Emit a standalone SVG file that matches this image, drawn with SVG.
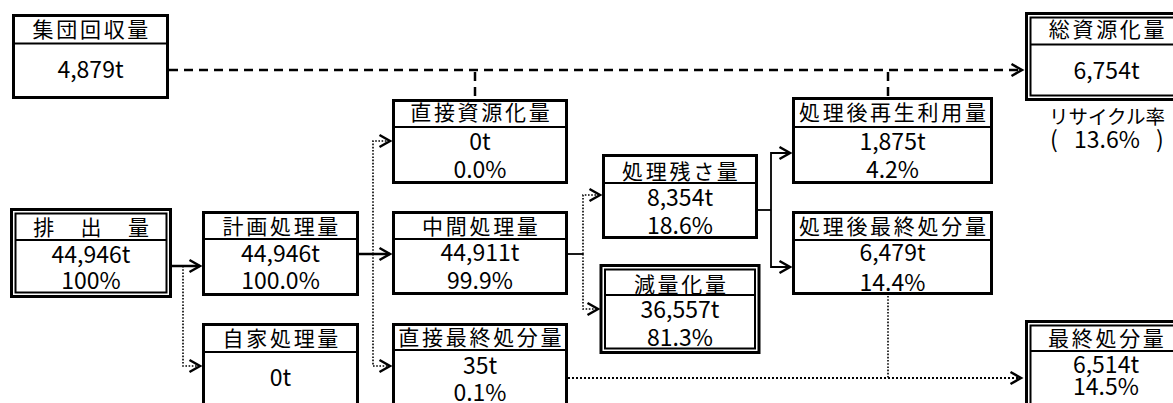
<svg xmlns="http://www.w3.org/2000/svg" width="1173" height="403" viewBox="0 0 1173 403">
<defs>
<style>
.bx{fill:#fff;stroke:#000;stroke-width:3}
.in{fill:none;stroke:#000;stroke-width:2}
.dv{stroke:#000;stroke-width:2}
.hd{font-family:"Noto Sans CJK JP","Noto Sans CJK SC",sans-serif;font-size:21px;letter-spacing:2.7px;text-anchor:middle;fill:#000}
.nm{font-family:"Noto Sans CJK JP","Noto Sans CJK SC",sans-serif;font-size:23px;text-anchor:middle;fill:#000}
.lb{font-family:"Noto Sans CJK JP","Noto Sans CJK SC",sans-serif;font-size:19.5px;text-anchor:middle;fill:#000}
.sl{fill:none;stroke:#000;stroke-width:2.5}
.tn{fill:none;stroke:#000;stroke-width:1.8}
.ds{fill:none;stroke:#000;stroke-width:2.5;stroke-dasharray:9 6}
.dt{fill:none;stroke:#000;stroke-width:1.6;stroke-dasharray:1.6 1.6}
.dt2{fill:none;stroke:#000;stroke-width:2;stroke-dasharray:2 2}
</style>
<marker id="ah" markerUnits="userSpaceOnUse" markerWidth="16" markerHeight="16" refX="12" refY="8" orient="auto" viewBox="0 0 16 16">
<path d="M1.5,2 L12,8 L1.5,14" fill="none" stroke="#000" stroke-width="2.5" stroke-dasharray="none"/>
</marker>
</defs>

<g id="connectors">
<path class="ds" d="M169,70 H1022" marker-end="url(#ah)"/>
<path class="ds" d="M475,72 V99"/>
<path class="ds" d="M888,72 V97"/>
<path class="sl" d="M172,266 H200" marker-end="url(#ah)"/>
<path class="dt" d="M183,266 V366 H200" marker-end="url(#ah)"/>
<path class="sl" d="M359,254 H390" marker-end="url(#ah)"/>
<path class="dt" d="M373,254 V141 H390" marker-end="url(#ah)"/>
<path class="dt" d="M373,254 V366 H390" marker-end="url(#ah)"/>
<path class="tn" d="M568,254 H583"/>
<path class="dt" d="M583,254 V195 H600" marker-end="url(#ah)"/>
<path class="dt" d="M583,254 V309 H598" marker-end="url(#ah)"/>
<path class="tn" d="M758,210 H771"/>
<path class="tn" d="M771,210 V153 H790" marker-end="url(#ah)"/>
<path class="tn" d="M771,210 V267 H790" marker-end="url(#ah)"/>
<path class="dt" d="M888,296 V378"/>
<path class="dt2" d="M568,378 H1021" marker-end="url(#ah)"/>
</g>

<g id="n-shudan">
<rect class="bx" x="13.5" y="15.5" width="154" height="82"/>
<line class="dv" x1="13.5" y1="43.5" x2="167.5" y2="43.5"/>
<text class="hd" x="91.8" y="37">集団回収量</text>
<text class="nm" x="90.5" y="78.4">4,879t</text>
</g>

<g id="n-soushigen">
<rect class="bx" x="1026.5" y="13.5" width="200" height="86"/>
<rect class="in" x="1030.5" y="17.5" width="200" height="78"/>
<line class="dv" x1="1030.5" y1="44.5" x2="1180" y2="44.5"/>
<text class="hd" x="1108" y="37">総資源化量</text>
<text class="nm" x="1106.5" y="79.4">6,754t</text>
<text class="lb" x="1107" y="124">リサイクル率</text>
<text class="nm" y="148.4"><tspan x="1054">(</tspan><tspan x="1107"> 13.6% </tspan><tspan x="1160">)</tspan></text>
</g>

<g id="n-haishutsu">
<rect class="bx" x="11.5" y="209.5" width="159" height="87"/>
<rect class="in" x="15.5" y="213.5" width="151" height="79"/>
<line class="dv" x1="15.5" y1="240" x2="166.5" y2="240"/>
<text class="hd" x="92.4" y="234.5">排　出　量</text>
<text class="nm" x="91" y="262.9">44,946t</text>
<text class="nm" x="91" y="289.4">100%</text>
</g>

<g id="n-keikaku">
<rect class="bx" x="203.5" y="212.5" width="154" height="82"/>
<line class="dv" x1="203.5" y1="239" x2="357.5" y2="239"/>
<text class="hd" x="281.8" y="234">計画処理量</text>
<text class="nm" x="280.5" y="262.4">44,946t</text>
<text class="nm" x="280.5" y="289.4">100.0%</text>
</g>

<g id="n-jika">
<rect class="bx" x="203.5" y="324.5" width="154" height="100"/>
<line class="dv" x1="203.5" y1="352" x2="357.5" y2="352"/>
<text class="hd" x="281.8" y="346">自家処理量</text>
<text class="nm" x="280.5" y="386.4">0t</text>
</g>

<g id="n-chokushigen">
<rect class="bx" x="393.5" y="100.5" width="173" height="82"/>
<line class="dv" x1="393.5" y1="127" x2="566.5" y2="127"/>
<text class="hd" x="481.3" y="120">直接資源化量</text>
<text class="nm" x="480" y="150">0t</text>
<text class="nm" x="480" y="178.4">0.0%</text>
</g>

<g id="n-chukan">
<rect class="bx" x="393.5" y="212.5" width="173" height="81"/>
<line class="dv" x1="393.5" y1="239" x2="566.5" y2="239"/>
<text class="hd" x="481.3" y="234">中間処理量</text>
<text class="nm" x="480" y="261.4">44,911t</text>
<text class="nm" x="480" y="289.4">99.9%</text>
</g>

<g id="n-chokusaishu">
<rect class="bx" x="393.5" y="324.5" width="173" height="100"/>
<line class="dv" x1="393.5" y1="350" x2="566.5" y2="350"/>
<text class="hd" x="481.3" y="345">直接最終処分量</text>
<text class="nm" x="480" y="374">35t</text>
<text class="nm" x="480" y="401">0.1%</text>
</g>

<g id="n-zansa">
<rect class="bx" x="603.5" y="155.5" width="153" height="82"/>
<line class="dv" x1="603.5" y1="183" x2="756.5" y2="183"/>
<text class="hd" x="681.3" y="178.5">処理残さ量</text>
<text class="nm" x="680" y="205.9">8,354t</text>
<text class="nm" x="680" y="234.4">18.6%</text>
</g>

<g id="n-genryou">
<rect class="bx" x="601" y="265.5" width="158" height="87"/>
<rect class="in" x="605" y="269.5" width="150" height="79"/>
<line class="dv" x1="605" y1="295" x2="755" y2="295"/>
<text class="hd" x="681.3" y="291.5">減量化量</text>
<text class="nm" x="680" y="317.9">36,557t</text>
<text class="nm" x="680" y="346.4">81.3%</text>
</g>

<g id="n-saisei">
<rect class="bx" x="793.5" y="98.5" width="198" height="84"/>
<line class="dv" x1="793.5" y1="127" x2="991.5" y2="127"/>
<text class="hd" x="893.8" y="120">処理後再生利用量</text>
<text class="nm" x="892.5" y="150.4">1,875t</text>
<text class="nm" x="892.5" y="178.4">4.2%</text>
</g>

<g id="n-shorigosaishu">
<rect class="bx" x="793.5" y="212.5" width="198" height="81"/>
<line class="dv" x1="793.5" y1="240" x2="991.5" y2="240"/>
<text class="hd" x="893.8" y="234">処理後最終処分量</text>
<text class="nm" x="892.5" y="261.4">6,479t</text>
<text class="nm" x="892.5" y="291.4">14.4%</text>
</g>

<g id="n-saishu">
<rect class="bx" x="1026.5" y="321.5" width="200" height="120"/>
<rect class="in" x="1030.5" y="325.5" width="200" height="120"/>
<line class="dv" x1="1030.5" y1="351" x2="1180" y2="351"/>
<text class="hd" x="1107.3" y="346">最終処分量</text>
<text class="nm" x="1106" y="373.4">6,514t</text>
<text class="nm" x="1106" y="395.4">14.5%</text>
</g>
</svg>
